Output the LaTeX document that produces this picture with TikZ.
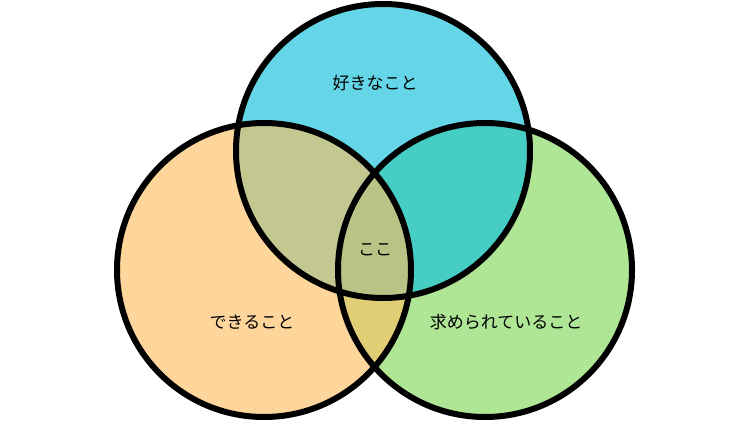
\documentclass[tikz,border=0pt]{standalone}
\usepackage{fontspec}
\newfontfamily\jp{Noto Sans CJK JP}
\definecolor{cTop}{HTML}{64D6E8}
\definecolor{cLeft}{HTML}{FED69B}
\definecolor{cRight}{HTML}{AFE696}
\definecolor{cTL}{HTML}{C3C891}
\definecolor{cTR}{HTML}{46CDC4}
\definecolor{cLR}{HTML}{E0CD74}
\definecolor{cAll}{HTML}{B8C485}
\tikzset{
  ring/.style={draw=black, line width=6pt},
  lbl/.style={font=\jp\fontsize{17}{19}\selectfont, text=black, inner sep=0pt}
}
\begin{document}
\begin{tikzpicture}[x=1pt,y=-1pt]
\useasboundingbox (0,0) rectangle (730,436);
\def\R{147}
\coordinate (T) at (383,151);
\coordinate (L) at (264,270);
\coordinate (Rc) at (485,270);
% base fills
\fill[cTop] (T) circle (\R);
\fill[cLeft] (L) circle (\R);
\fill[cRight] (Rc) circle (\R);
% pairwise overlaps
\begin{scope}
  \clip (T) circle (\R);
  \fill[cTL] (L) circle (\R);
  \fill[cTR] (Rc) circle (\R);
\end{scope}
\begin{scope}
  \clip (L) circle (\R);
  \fill[cLR] (Rc) circle (\R);
\end{scope}
\begin{scope}
  \clip (T) circle (\R);
  \clip (L) circle (\R);
  \fill[cAll] (Rc) circle (\R);
\end{scope}
% outlines
\draw[ring] (T) circle (\R);
\draw[ring] (L) circle (\R);
\draw[ring] (Rc) circle (\R);
% labels
\node[lbl] (tTop) at (375,83) {好きなこと};
\node[lbl] (tMid) at (375,250) {ここ};
\node[lbl] (tLeft) at (252,322) {できること};
\node[lbl] (tRight) at (506,322) {求められていること};
\end{tikzpicture}
\end{document}
